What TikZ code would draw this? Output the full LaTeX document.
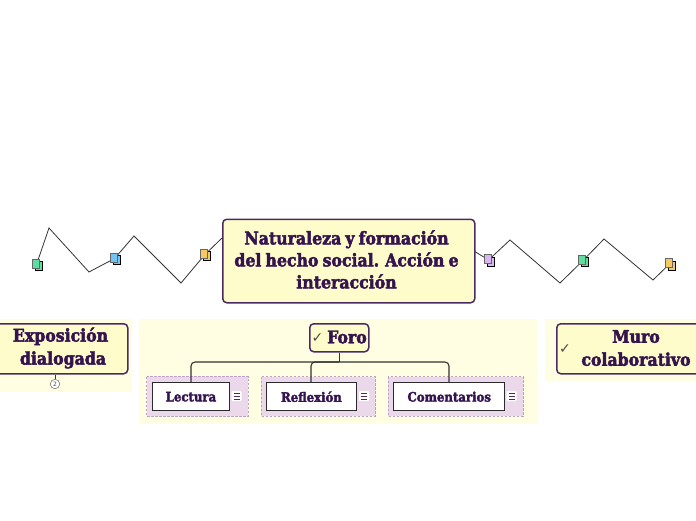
\documentclass[tikz,border=0pt]{standalone}
\usepackage{fontspec}
\setmainfont{DejaVu Serif}[Scale=1]
\newfontfamily\slab{DejaVu Serif Condensed Bold}[FakeBold=2.6,WordSpace=0.75]
\newfontfamily\sym{DejaVu Sans}
\definecolor{ink}{HTML}{35134F}
\definecolor{edge}{HTML}{4B2A63}
\definecolor{cream}{HTML}{FFFCCC}
\definecolor{pale}{HTML}{FFFEE3}
\definecolor{pinkbg}{HTML}{EBD9EB}
\definecolor{pinkedge}{HTML}{BE9FC8}
\definecolor{greenc}{HTML}{5FDDA0}
\definecolor{bluec}{HTML}{74C4F2}
\definecolor{yellowc}{HTML}{F5C862}
\definecolor{lilac}{HTML}{D9B8F2}
\definecolor{linec}{HTML}{333333}
\tikzset{
  topicbox/.style={draw=edge,line width=1.5pt,fill=cream,rounded corners=4pt,inner sep=0pt,align=center,text=ink,font=\slab},
  leafbox/.style={draw=linec!85!black,line width=1.4pt,fill=white,inner sep=0pt,text=ink,font=\slab\fontsize{13}{15}\selectfont},
  panel/.style={fill=pale,draw=none},
  pinkpanel/.style={fill=pinkbg,draw=pinkedge,line width=1pt,dash pattern=on 2.5pt off 1.5pt},
  conn/.style={draw=linec,line width=.8pt,line join=miter},
  tree/.style={draw=linec,line width=1.1pt,rounded corners=4pt},
  checkmark/.style={font=\sym\fontsize{14}{14}\selectfont,text=black!70,inner sep=0pt},
  notebg/.style={fill=white,draw=none,rounded corners=1pt,minimum size=10pt,inner sep=0pt},
}
\newcommand{\docicon}[3]{%
  \node[fill=#3,draw=black,line width=.9pt,minimum width=7pt,minimum height=9pt,inner sep=0pt] at ($(#2)+(2,1.5)$) {};
  \node[fill=#3,draw=black!60,line width=.9pt,minimum width=7pt,minimum height=9pt,inner sep=0pt] (#1) at ($(#2)+(-1,-1)$) {};
}
\usetikzlibrary{calc}
\begin{document}
\begin{tikzpicture}[x=1pt,y=-1pt]
\useasboundingbox (0,0) rectangle (696,520);
\fill[panel] (0,319) rectangle (132,392);
\fill[panel] (139,319) rectangle (538,424);
\fill[panel] (545,319) rectangle (696,381);
\draw[pinkpanel] (146.5,376.5) rectangle (248,416);
\draw[pinkpanel] (261,376.5) rectangle (375,416);
\draw[pinkpanel] (388,376.5) rectangle (523,416);
\coordinate (a1) at (181,283); \coordinate (a2) at (134,236);
\coordinate (a3) at (89,272);  \coordinate (a4) at (49,228);
\coordinate (b1) at (510,240); \coordinate (b2) at (560,283);
\coordinate (b3) at (604,239); \coordinate (b4) at (653,280);
\coordinate (pa) at (205,254.5); \coordinate (pb) at (114.5,258.5);
\coordinate (pc) at (36.5,264.5); \coordinate (pd) at (488.5,260);
\coordinate (pe) at (583,260.5); \coordinate (pf) at (669.5,264);
\coordinate (rl) at (222,238); \coordinate (rr) at (474,251);
\draw[conn] (rl) -- (pa) -- (a1) -- (a2) -- (pb) -- (a3) -- (a4) -- (pc);
\draw[conn] (rr) -- (pd) -- (b1) -- (b2) -- (pe) -- (b3) -- (b4) -- (pf);
% root
\node[topicbox,minimum width=252pt,minimum height=83.5pt,anchor=north west] (root) at (222,218.5) {};
\node[text=ink,align=center,inner sep=0pt,font=\slab\fontsize{17.5}{22}\selectfont] (roott) at (346.5,259.5)
  {Naturaleza y formación\\del hecho social. Acción e\\interacción};
% icons
\docicon{ia}{pa}{yellowc}
\docicon{ib}{pb}{bluec}
\docicon{ic}{pc}{greenc}
\docicon{id}{pd}{lilac}
\docicon{ie}{pe}{greenc}
\docicon{if}{pf}{yellowc}
% left topic
\node[circle,draw=black!60,fill=white,line width=.5pt,minimum size=9.5pt,inner sep=0pt,
      font=\sym\fontsize{6}{6}\selectfont,text=black!70] (more) at (55,384) {2};
\node[topicbox,minimum width=140pt,minimum height=50pt,anchor=north west] (expo) at (-13,323) {};
\node[text=ink,align=center,font=\slab\fontsize{17.5}{23}\selectfont] (expot) at (63,348) {Exposición\hspace*{5pt}\\dialogada};
\draw[conn] (more) -- (more |- expo.south);
% Foro
\node[topicbox,minimum width=59pt,minimum height=28pt,anchor=north west] (foro) at (309,323) {};
\node[text=ink,inner sep=0pt,font=\slab\fontsize{17.5}{20}\selectfont] (forot) at (347,337) {Foro};
\node[checkmark] (foroc) at (317.5,338) {✓};
% children
\node[leafbox,minimum width=77.5pt,minimum height=28pt,anchor=north west] (lec) at (151.5,382) {Lectura};
\node[leafbox,minimum width=89.5pt,minimum height=28pt,anchor=north west] (ref) at (266,382) {Reflexión};
\node[leafbox,minimum width=111pt,minimum height=28pt,anchor=north west] (com) at (393,382) {Comentarios};
% tree connectors
\coordinate (fork) at (foro.south |- 0,362);
\draw[tree] (foro.south) -- (fork);
\draw[tree] (fork) -| ($(lec.north west)+(39.5,0)$);
\draw[tree] (fork) -| ($(ref.north west)+(45,0)$);
\draw[tree] (fork) -| ($(com.north west)+(56,0)$);
% note marks
\foreach \n/\x in {nl/236.5,nr/364,nc/511.5}{
  \node[notebg] (\n) at (\x,396) {};
  \draw[edge,line width=.8pt] (\x-3,393) -- (\x+3,393) (\x-3,396) -- (\x+3,396) (\x-3,399) -- (\x+3,399);
}
% Muro
\node[topicbox,minimum width=150pt,minimum height=50pt,anchor=north west] (muro) at (556,323) {};
\node[text=ink,align=center,font=\slab\fontsize{17.5}{23}\selectfont] (murot) at (636,348) {Muro\\colaborativo};
\node[checkmark] (muroc) at (565,349) {✓};
\end{tikzpicture}
\end{document}
